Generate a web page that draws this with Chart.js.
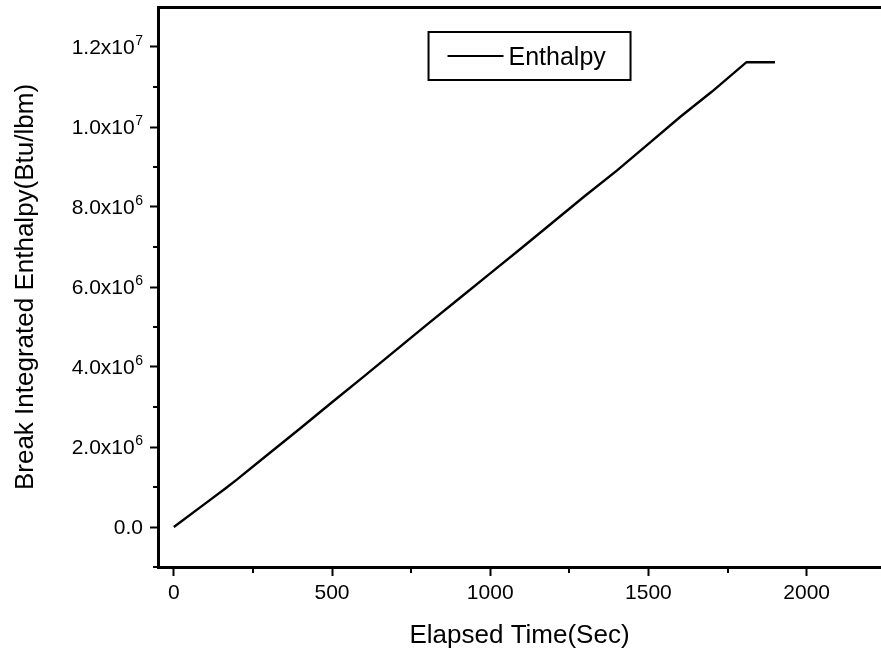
<!DOCTYPE html>
<html>
<head>
<meta charset="utf-8">
<script src="https://cdn.jsdelivr.net/npm/chart.js@4.4.1/dist/chart.umd.min.js"></script>
<style>
  html, body { margin: 0; padding: 0; background: #fff; }
  #wrap { width: 881px; height: 657px; position: relative; }
</style>
</head>
<body>
<div id="wrap"><canvas id="c"></canvas></div>
<script>
// ---- data ----
const times = [0, 100, 164, 200, 300, 400, 500, 600, 700, 800, 900, 1000, 1100, 1200, 1300, 1400, 1500, 1600, 1700, 1810, 1900];
const enthalpy = [0, 0.59e6, 0.97e6, 1.19e6, 1.83e6, 2.47e6, 3.12e6, 3.76e6, 4.41e6, 5.06e6, 5.70e6, 6.34e6, 6.98e6, 7.63e6, 8.28e6, 8.91e6, 9.58e6, 10.25e6, 10.88e6, 11.62e6, 11.62e6];
const seriesName = 'Enthalpy';
const xMajorTicks = [0, 500, 1000, 1500, 2000];
const xMinorTicks = [250, 750, 1250, 1750];
const yMajorTicks = [0, 2e6, 4e6, 6e6, 8e6, 10e6, 12e6];
const yTickMantissa = ['0.0', '2.0x10', '4.0x10', '6.0x10', '8.0x10', '1.0x10', '1.2x10'];
const yTickExponent = ['', '6', '6', '6', '6', '7', '7'];
const yMinorTicks = [-1e6, 1e6, 3e6, 5e6, 7e6, 9e6, 11e6];
const xTitle = 'Elapsed Time(Sec)';
const yTitle = 'Break Integrated Enthalpy(Btu/lbm)';

const FONT = '"Liberation Sans", Arial, Helvetica, sans-serif';
Chart.defaults.color = '#000';
Chart.defaults.font.family = FONT;

const decorations = {
  id: 'decorations',
  afterDraw(chart) {
    const ctx = chart.ctx;
    const xs = chart.scales.x, ys = chart.scales.y;
    const ca = chart.chartArea;
    ctx.save();
    ctx.strokeStyle = '#000';
    ctx.fillStyle = '#000';
    ctx.lineWidth = 2;
    ctx.beginPath();
    xMinorTicks.forEach(v => {
      const px = Math.round(xs.getPixelForValue(v));
      ctx.moveTo(px, ca.bottom);
      ctx.lineTo(px, ca.bottom + 6);
    });
    yMinorTicks.forEach(v => {
      const py = Math.round(ys.getPixelForValue(v));
      ctx.moveTo(ca.left, py);
      ctx.lineTo(ca.left - 5, py);
    });
    ctx.stroke();

    // y tick labels with superscript exponents
    const right = ca.left - 15;
    ctx.textBaseline = 'alphabetic';
    yMajorTicks.forEach((v, i) => {
      const py = ys.getPixelForValue(v);
      const base = py + 7;
      let x = right;
      ctx.textAlign = 'right';
      if (yTickExponent[i]) {
        ctx.font = '14px ' + FONT;
        ctx.fillText(yTickExponent[i], x, base - 9);
        x -= ctx.measureText(yTickExponent[i]).width + 0.5;
      }
      ctx.font = '21px ' + FONT;
      ctx.fillText(yTickMantissa[i], x, base);
    });

    // legend box
    const ds = chart.data.datasets[0];
    const lx = xs.getPixelForValue(805), ly = 32;
    ctx.lineWidth = 2;
    ctx.strokeRect(lx, ly, 202, 48);
    ctx.strokeStyle = ds.borderColor;
    ctx.lineWidth = 2;
    ctx.beginPath();
    ctx.moveTo(lx + 19, ly + 24);
    ctx.lineTo(lx + 75, ly + 24);
    ctx.stroke();
    ctx.textAlign = 'left';
    ctx.font = '25px ' + FONT;
    ctx.fillText(ds.label, lx + 80, ly + 33);
    ctx.restore();
  }
};

new Chart(document.getElementById('c'), {
  type: 'line',
  data: {
    datasets: [{
      label: seriesName,
      data: times.map((t, i) => ({ x: t, y: enthalpy[i] })),
      borderColor: '#000',
      backgroundColor: '#000',
      borderWidth: 2.4,
      pointRadius: 0,
      tension: 0,
      fill: false
    }]
  },
  options: {
    responsive: true,
    maintainAspectRatio: false,
    animation: false,
    layout: { padding: { top: 7, left: 0, right: 0, bottom: 0 } },
    plugins: {
      tooltip: { enabled: false },
      legend: { display: false }
    },
    scales: {
      x: {
        type: 'linear',
        position: 'bottom',
        min: -50,
        max: 2235,
        afterBuildTicks: s => { s.ticks = xMajorTicks.map(v => ({ value: v })); },
        afterFit: s => { s.height = 90; s.paddingLeft = 0; s.paddingRight = 0; },
        ticks: {
          padding: 5,
          maxRotation: 0,
          font: { size: 21, family: FONT },
          color: '#000',
          callback: v => String(v)
        },
        grid: { drawOnChartArea: false, drawTicks: true, tickLength: 9, tickWidth: 2, tickColor: '#000' },
        border: { display: true, color: '#000', width: 3 },
        title: { display: true, text: xTitle, color: '#000', font: { size: 26, family: FONT }, padding: { top: 0, bottom: 6 } }
      },
      x2: {
        type: 'linear',
        position: 'top',
        min: -50,
        max: 2235,
        afterFit: s => { s.height = 0; s.paddingLeft = 0; s.paddingRight = 0; },
        ticks: { display: false },
        grid: { display: false, drawTicks: false },
        border: { display: true, color: '#000', width: 3 }
      },
      y: {
        type: 'linear',
        min: -1e6,
        max: 1.3e7,
        afterBuildTicks: s => { s.ticks = yMajorTicks.map(v => ({ value: v })); },
        afterFit: s => { s.width = 158; s.paddingTop = 0; s.paddingBottom = 0; },
        ticks: {
          padding: 7,
          font: { size: 21, family: FONT },
          color: 'rgba(0,0,0,0)',
          callback: (v) => { const i = yMajorTicks.indexOf(v); return i >= 0 ? yTickMantissa[i] + yTickExponent[i] : ''; }
        },
        grid: { drawOnChartArea: false, drawTicks: true, tickLength: 8, tickWidth: 2, tickColor: '#000' },
        border: { display: true, color: '#000', width: 3 },
        title: { display: true, text: yTitle, color: '#000', font: { size: 26, family: FONT }, padding: { top: 10, bottom: 0 } }
      }
    }
  },
  plugins: [decorations]
});
</script>
</body>
</html>
